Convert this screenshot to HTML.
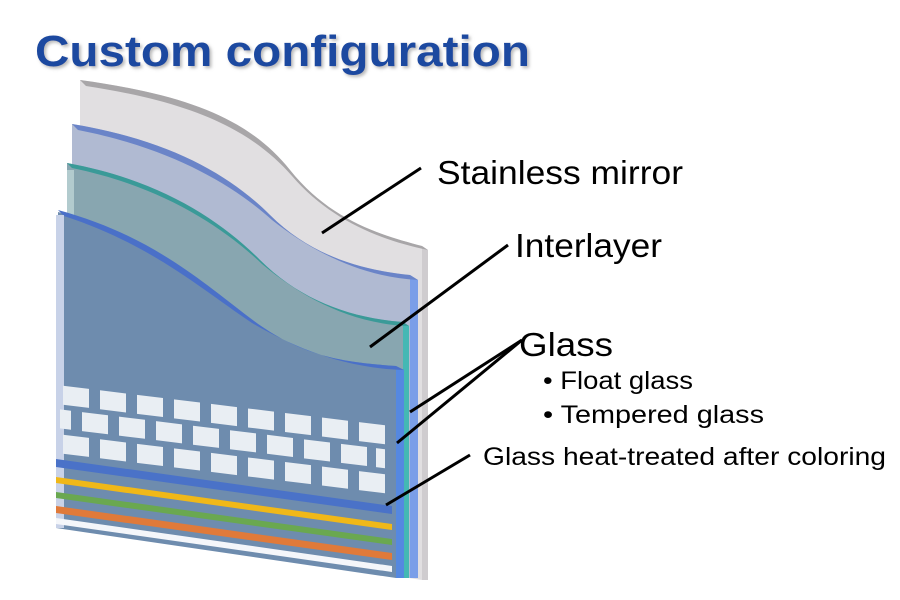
<!DOCTYPE html>
<html><head><meta charset="utf-8"><style>
body{margin:0;background:#fff;width:900px;height:600px;overflow:hidden}
svg{display:block}
text{font-family:"Liberation Sans",sans-serif}
</style></head><body>
<svg width="900" height="600" viewBox="0 0 900 600">
<defs><filter id="sh"><feDropShadow dx="2" dy="2" stdDeviation="1.5" flood-color="#888" flood-opacity="0.6"/></filter></defs>
<text x="35" y="66" font-size="44" font-weight="bold" fill="#1f4aa0" filter="url(#sh)" textLength="495" lengthAdjust="spacingAndGlyphs">Custom configuration</text>
<!-- mirror -->
<path d="M422,246 L428,250 L428,580 L422,580 Z" fill="#cfcccf"/>
<path d="M80,80 C190,95 250,120 290,170 S380,235 422,246 L422,580 L80,528 Z" fill="#e1dfe1"/>
<path d="M80,80 C190,95 250,120 290,170 S380,235 422,246 L428,250 C380,240 330,220 292,176 C250,128 190,102 86,86 Z" fill="#a8a6a8"/>
<!-- back glass -->
<path d="M72,124 C170,140 230,175 270,215 S360,270 410,275 L410,578 L72,528 Z" fill="#b0bad2"/>
<path d="M410,275 L418,280 L418,578 L410,578 Z" fill="#7a9ee8"/>
<path d="M72,124 C170,140 230,175 270,215 S360,270 410,275 L418,280 C360,277 310,250 272,220 C232,184 170,148 78,130 Z" fill="#6a84c8"/>
<!-- interlayer -->
<path d="M67,163 C160,180 220,220 260,260 S350,318 403,322 L403,578 L67,528 Z" fill="#88a6b0"/>
<path d="M403,322 L409,326 L409,578 L403,578 Z" fill="#44b8b4"/>
<path d="M67,163 C160,180 220,220 260,260 S350,318 403,322 L409,326 C350,324 300,296 262,264 C222,226 160,186 72,168 Z" fill="#3a9a98"/>
<rect x="67" y="170" width="7" height="356" fill="#c4dcdc" opacity="0.7"/>
<!-- front glass -->
<path d="M58,212 C150,235 200,280 250,318 S340,362 396,366 L396,578 L56,528 Z" fill="#6e8cae"/>
<path d="M396,366 L404,370 L404,578 L396,578 Z" fill="#5588e0"/>
<path d="M58,210 C150,235 200,280 250,318 S340,362 396,366 L404,370 C340,368 290,345 252,323 C200,288 150,244 64,216 Z" fill="#4a70c8"/>
<rect x="56" y="215" width="8" height="313" fill="#c8d2e8"/>
<!-- bricks -->
<g fill="#e9eef3" transform="skewY(7)">
<g id="r1"><rect x="63" y="378" width="26" height="19"/><rect x="100" y="378" width="26" height="19"/><rect x="137" y="378" width="26" height="19"/><rect x="174" y="378" width="26" height="19"/><rect x="211" y="378" width="26" height="19"/><rect x="248" y="378" width="26" height="19"/><rect x="285" y="378" width="26" height="19"/><rect x="322" y="378" width="26" height="19"/><rect x="359" y="378" width="26" height="19"/></g>
<rect x="60" y="402" width="11" height="19"/><rect x="82" y="402" width="26" height="19"/><rect x="119" y="402" width="26" height="19"/><rect x="156" y="402" width="26" height="19"/><rect x="193" y="402" width="26" height="19"/><rect x="230" y="402" width="26" height="19"/><rect x="267" y="402" width="26" height="19"/><rect x="304" y="402" width="26" height="19"/><rect x="341" y="402" width="26" height="19"/><rect x="376" y="402" width="9" height="19"/>
<use href="#r1" y="49"/>
</g>
<!-- stripes -->
<g>
<polygon points="56,459 392,506 392,514 56,467" fill="#4a72c8"/>
<polygon points="56,477 392,524 392,530 56,483" fill="#f0b818"/>
<polygon points="56,492 392,539 392,545 56,498" fill="#6aa850"/>
<polygon points="56,506 392,553 392,560 56,513" fill="#e07a3a"/>
<polygon points="56,518 392,566 392,572 56,524" fill="#f4f6fa"/>
</g>
<!-- leaders -->
<g stroke="#000" stroke-width="3" fill="none">
<line x1="322" y1="233" x2="421" y2="168"/>
<line x1="370" y1="347" x2="508" y2="245"/>
<line x1="410" y1="412" x2="522" y2="340"/>
<line x1="397" y1="443" x2="522" y2="340"/>
<line x1="386" y1="505" x2="470" y2="455"/>
</g>
<g fill="#000">
<text x="437" y="184" font-size="33" textLength="246" lengthAdjust="spacingAndGlyphs">Stainless mirror</text>
<text x="515" y="257" font-size="33" textLength="147" lengthAdjust="spacingAndGlyphs">Interlayer</text>
<text x="519" y="356" font-size="33" textLength="94" lengthAdjust="spacingAndGlyphs">Glass</text>
<text x="543" y="389" font-size="25" textLength="150" lengthAdjust="spacingAndGlyphs">• Float glass</text>
<text x="543" y="423" font-size="25" textLength="221" lengthAdjust="spacingAndGlyphs">• Tempered glass</text>
<text x="483" y="465" font-size="25" textLength="403" lengthAdjust="spacingAndGlyphs">Glass heat-treated after coloring</text>
</g>
</svg>
</body></html>
